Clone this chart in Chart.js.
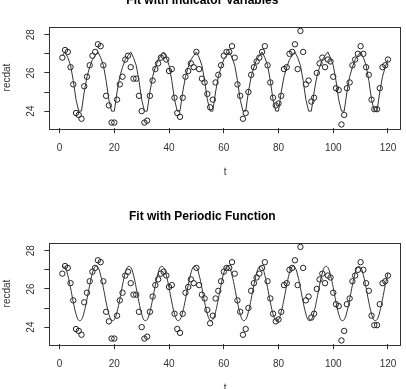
<!DOCTYPE html>
<html>
<head>
<meta charset="utf-8">
<script src="https://cdn.jsdelivr.net/npm/chart.js@4/dist/chart.umd.min.js"></script>
<style>
  html, body { margin: 0; padding: 0; background: #fff; overflow: hidden; }
  body { width: 406px; height: 389px; position: relative; }
  .panel { position: absolute; left: 0; width: 406px; height: 216px; }
</style>
</head>
<body>
<div class="panel" style="top:-22px"><canvas id="indicator"></canvas></div>
<div class="panel" style="top:194px"><canvas id="periodic"></canvas></div>
<script>
// monthly observations, t = 1..120
const recdat = [
  26.8, 27.2, 27.1, 26.3, 25.4, 23.9, 23.8, 23.6, 25.3, 25.8, 26.4, 26.9,
  27.1, 27.5, 27.4, 26.4, 24.8, 24.3, 23.4, 23.4, 24.6, 25.4, 25.8, 26.7,
  26.9, 26.3, 25.7, 25.7, 24.8, 24.0, 23.4, 23.5, 24.8, 25.6, 26.2, 26.5,
  26.8, 26.9, 26.7, 26.1, 26.2, 24.7, 23.9, 23.7, 24.7, 25.8, 26.1, 26.5,
  26.3, 27.1, 26.2, 25.7, 25.5, 24.9, 24.2, 24.6, 25.5, 25.9, 26.4, 26.9,
  27.1, 27.1, 27.4, 26.8, 25.4, 24.8, 23.6, 23.9, 25.0, 25.9, 26.3, 26.6,
  26.8, 27.1, 27.4, 26.4, 25.5, 24.7, 24.3, 24.4, 24.8, 26.2, 26.3, 27.0,
  27.1, 27.5, 26.2, 28.2, 27.1, 25.4, 25.6, 24.5, 24.7, 26.0, 26.5, 26.8,
  26.3, 26.7, 26.6, 25.8, 25.2, 25.1, 23.3, 23.8, 25.2, 25.5, 26.4, 26.7,
  27.0, 27.4, 27.0, 26.3, 25.9, 24.6, 24.1, 24.1, 25.2, 26.3, 26.4, 26.7
];
const t = recdat.map((_, i) => i + 1);

// fitted value for each calendar month
const indicatorFit = [26.9, 27.1, 26.8, 26.4, 25.6, 24.6, 24.0, 24.0, 25.0, 25.8, 26.3, 26.7];
const periodicFit  = [27.17, 27.13, 26.72, 26.06, 25.31, 24.69, 24.35, 24.39, 24.80, 25.46, 26.20, 26.83];

const xTicks = [0, 20, 40, 60, 80, 100, 120];
const yTicks = [24, 25, 26, 27, 28];
const yLabels = [24, 26, 28];

Chart.defaults.font.family = "'Liberation Sans', Arial, sans-serif";
Chart.defaults.font.size = 10;

const ink = "#333";

const boxPlugin = {
  id: "box",
  afterDraw(chart) {
    const { ctx, chartArea: a } = chart;
    ctx.save();
    ctx.strokeStyle = ink;
    ctx.lineWidth = 1;
    ctx.strokeRect(Math.round(a.left) + 0.5, Math.round(a.top) + 0.5,
      Math.round(a.right - a.left) - 1, Math.round(a.bottom - a.top));
    ctx.restore();
  }
};

function makeChart(id, title, monthFit, smooth) {
  const obs = t.map((x, i) => ({ x, y: recdat[i] }));
  const fit = t.map((x, i) => ({ x, y: monthFit[i % 12] }));

  new Chart(document.getElementById(id), {
    type: "scatter",
    data: {
      datasets: [
        {
          type: "line",
          data: fit,
          borderColor: ink,
          borderWidth: 1,
          pointRadius: 0,
          tension: smooth ? 0.4 : 0,
          fill: false
        },
        {
          data: obs,
          pointStyle: "circle",
          pointRadius: 2.7,
          borderWidth: 1,
          borderColor: "#222",
          backgroundColor: "rgba(0,0,0,0)"
        }
      ]
    },
    options: {
      responsive: true,
      maintainAspectRatio: false,
      animation: false,
      events: [],
      layout: { padding: { left: 0, right: 1.3, top: 0, bottom: 15.7 } },
      plugins: {
        legend: { display: false },
        tooltip: { enabled: false },
        title: {
          display: true,
          text: title,
          color: "#000",
          font: { size: 12, weight: "bold" },
          padding: { top: 15.8, bottom: 18.5 }
        }
      },
      scales: {
        x: {
          type: "linear",
          min: -3.76,
          max: 124.76,
          afterBuildTicks: s => { s.ticks = xTicks.map(v => ({ value: v })); },
          afterFit: s => { s.height = 50; },
          grid: { drawOnChartArea: false, drawTicks: true, tickLength: 5, color: ink },
          border: { display: false },
          ticks: { padding: 9, color: ink, maxRotation: 0, autoSkip: false },
          title: { display: true, text: "t", color: ink, padding: 0 }
        },
        y: {
          min: 23.10,
          max: 28.42,
          afterBuildTicks: s => { s.ticks = yTicks.map(v => ({ value: v })); },
          afterFit: s => { s.width = 49.3; },
          grid: { drawOnChartArea: false, drawTicks: true, tickLength: 5, color: ink },
          border: { display: false },
          ticks: {
            minRotation: 90,
            maxRotation: 90,
            crossAlign: "center",
            padding: 7,
            color: ink,
            autoSkip: false,
            callback: v => yLabels.includes(v) ? String(v) : ""
          },
          title: { display: true, text: "recdat", color: ink, padding: { top: 1.5, bottom: 0 } }
        }
      }
    },
    plugins: [boxPlugin]
  });
}

makeChart("indicator", "Fit with Indicator Variables", indicatorFit, false);
makeChart("periodic", "Fit with Periodic Function", periodicFit, true);
</script>
</body>
</html>
